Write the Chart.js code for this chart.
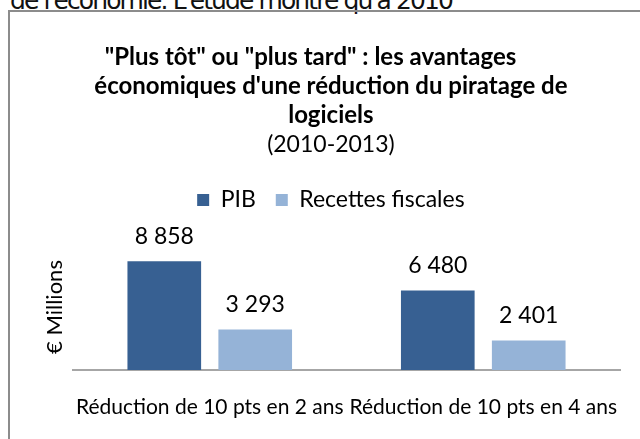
<!DOCTYPE html>
<html>
<head>
<meta charset="utf-8">
<script src="https://cdn.jsdelivr.net/npm/chart.js@4/dist/chart.umd.min.js"></script>
<style>
html, body { margin: 0; padding: 0; background: #fff; overflow: hidden; width: 640px; height: 439px; }
#page { position: relative; width: 640px; height: 439px; overflow: hidden; }
#topline { position: absolute; left: 10px; top: -14px; font: 25px "DejaVu Sans"; letter-spacing: -1.9px; white-space: nowrap; color: #111; }
#frame { position: absolute; left: 8px; top: 10px; right: -20px; bottom: -20px; border-left: 2px solid #8c8c8c; border-top: 2px solid #8c8c8c; }
#chart { position: absolute; left: 0; top: 0; }
</style>
</head>
<body>
<div id="page">
<div id="topline">de l'économie. L'étude montre qu'à 2010</div>
<div id="frame"></div>
<canvas id="chart" width="640" height="439"></canvas>
</div>
<script>
// données
const categories = ['Réduction de 10 pts en 2 ans', 'Réduction de 10 pts en 4 ans'];
const seriesNames = ['PIB', 'Recettes fiscales'];
const pib = [8858, 6480];
const recettes = [3293, 2401];

const titleLines = [
	'"Plus tôt" ou "plus tard" : les avantages       ',
	'économiques d\'une réduction du piratage de',
	'logiciels'
];
const subtitleText = '(2010-2013)';

function fmt(v){
	return String(v).replace(/\B(?=(\d{3})+(?!\d))/g, ' ');
}

// étiquettes de valeur au-dessus des barres
const valueLabels = {
	id: 'valueLabels',
	afterDatasetsDraw(chart){
		const ctx = chart.ctx;
		ctx.save();
		ctx.font = '23px Lato';
		ctx.fillStyle = '#000';
		ctx.textAlign = 'center';
		ctx.textBaseline = 'middle';
		chart.data.datasets.forEach((ds, i) => {
			chart.getDatasetMeta(i).data.forEach((bar, j) => {
				ctx.fillText(fmt(ds.data[j]), bar.x, bar.y - 25);
			});
		});
		ctx.restore();
	}
};

let chart = new Chart(document.getElementById('chart'), {
	type: 'bar',
	data: {
		labels: categories,
		datasets: [
			{ label: seriesNames[0], data: pib, backgroundColor: '#376092' },
			{ label: seriesNames[1], data: recettes, backgroundColor: '#95b3d7' }
		]
	},
	options: {
		responsive: false,
		animation: false,
		categoryPercentage: 0.665,
		barPercentage: 0.81,
		layout: { padding: { left: 41.8, right: 20, top: 0, bottom: -5 } },
		plugins: {
			title: {
				display: true,
				text: titleLines,
				color: '#000',
				font: { family: 'Lato', size: 24, weight: 'bold', lineHeight: '29px' },
				padding: { top: 42.5, bottom: 0 }
			},
			subtitle: {
				display: true,
				text: subtitleText,
				color: '#000',
				font: { family: 'Lato', size: 23, lineHeight: '22px' },
				padding: { top: 4.5, bottom: 12.5 }
			},
			legend: {
				labels: {
					boxWidth: 12,
					boxHeight: 12,
					padding: 20,
					color: '#000',
					font: { family: 'Lato', size: 23 }
				}
			},
			tooltip: { enabled: false }
		},
		scales: {
			x: {
				grid: { display: false, drawTicks: false },
				border: { color: '#a6a6a6', width: 2 },
				ticks: {
					color: '#000',
					font: { family: 'Lato', size: 21, lineHeight: '74px' },
					padding: 0,
					maxRotation: 0,
					autoSkip: false
				}
			},
			y: {
				min: 0,
				max: 12100,
				grid: { display: false, drawTicks: false },
				border: { display: false },
				ticks: { display: false },
				title: {
					display: true,
					text: '€ Millions    ',
					color: '#000',
					font: { family: 'Lato', size: 22 },
					padding: { top: 0, bottom: 4.8 }
				}
			}
		}
	},
	plugins: [valueLabels]
});
</script>
</body>
</html>
